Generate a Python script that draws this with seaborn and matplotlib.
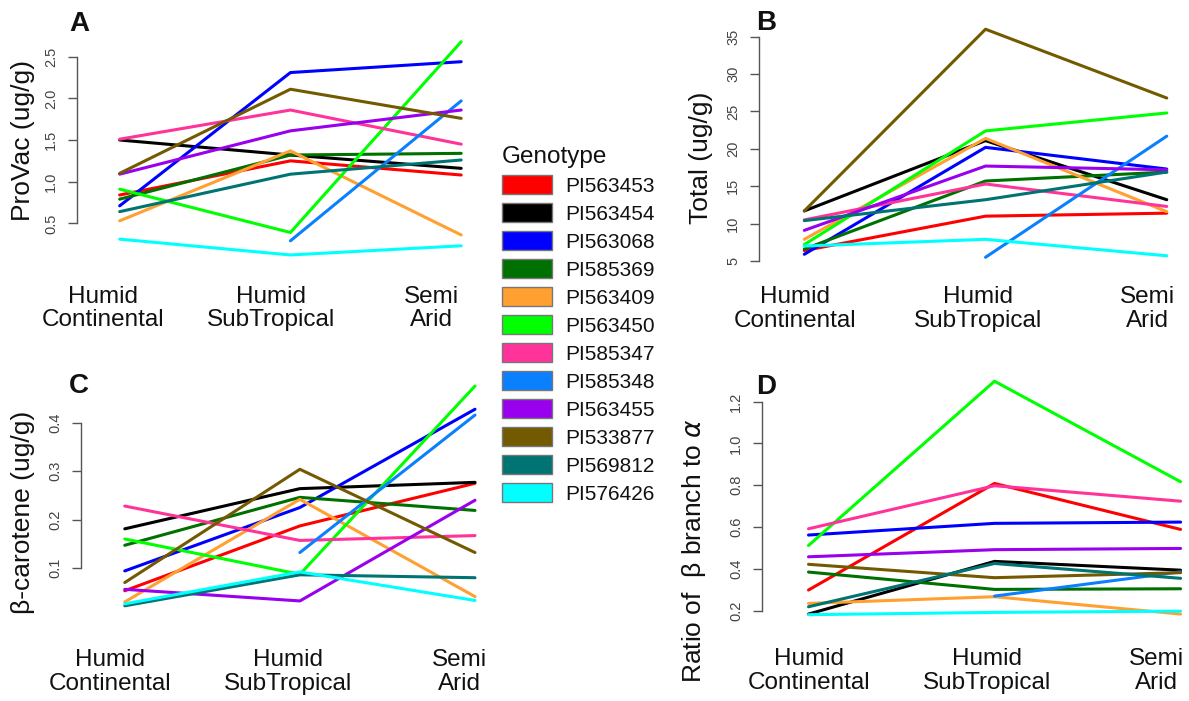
import numpy as np
import pandas as pd
import matplotlib
matplotlib.use("Agg")
import matplotlib.pyplot as plt
import seaborn as sns
from matplotlib.patches import Patch

nan = np.nan

genotypes = ["PI563453", "PI563454", "PI563068", "PI585369", "PI563409", "PI563450",
             "PI585347", "PI585348", "PI563455", "PI533877", "PI569812", "PI576426"]
colors = ["#FF0000", "#000000", "#0000FF", "#007000", "#FFA030", "#00FF00",
          "#FF3399", "#0A80FF", "#9900EE", "#735A00", "#007373", "#00FFFF"]
environments = ["Humid\nContinental", "Humid\nSubTropical", "Semi\nArid"]

provac = [
    [0.84, 1.25, 1.08],
    [1.50, 1.32, 1.16],
    [0.71, 2.31, 2.44],
    [0.79, 1.32, 1.34],
    [0.53, 1.37, 0.36],
    [0.91, 0.39, 2.68],
    [1.51, 1.86, 1.45],
    [nan, 0.29, 1.97],
    [1.09, 1.61, 1.86],
    [1.10, 2.11, 1.76],
    [0.64, 1.09, 1.26],
    [0.31, 0.12, 0.23],
]
total = [
    [6.4, 11.0, 11.4],
    [11.7, 21.1, 13.2],
    [5.9, 20.2, 17.3],
    [6.6, 15.7, 16.9],
    [7.9, 21.4, 11.6],
    [7.2, 22.4, 24.8],
    [10.5, 15.3, 12.3],
    [nan, 5.5, 21.7],
    [9.1, 17.7, 17.2],
    [11.7, 36.0, 26.8],
    [10.4, 13.2, 16.9],
    [7.0, 7.9, 5.7],
]
bcarotene = [
    [0.053, 0.187, 0.275],
    [0.181, 0.264, 0.277],
    [0.094, 0.225, 0.428],
    [0.147, 0.246, 0.219],
    [0.030, 0.242, 0.041],
    [0.160, 0.087, 0.476],
    [0.228, 0.157, 0.167],
    [nan, 0.132, 0.416],
    [0.056, 0.032, 0.240],
    [0.070, 0.304, 0.132],
    [0.022, 0.086, 0.080],
    [0.026, 0.092, 0.033],
]
ratio = [
    [0.299, 0.809, 0.589],
    [0.184, 0.436, 0.394],
    [0.562, 0.618, 0.624],
    [0.385, 0.302, 0.305],
    [0.235, 0.267, 0.184],
    [0.512, 1.298, 0.817],
    [0.592, 0.798, 0.724],
    [nan, 0.270, 0.386],
    [0.458, 0.492, 0.498],
    [0.422, 0.358, 0.382],
    [0.219, 0.426, 0.355],
    [0.181, 0.192, 0.198],
]

yticks_A = [0.5, 1.0, 1.5, 2.0, 2.5]
yticks_B = [5, 10, 15, 20, 25, 30, 35]
yticks_C = [0.1, 0.2, 0.3, 0.4]
yticks_D = [0.2, 0.4, 0.6, 0.8, 1.0, 1.2]

sns.set_theme(style="white")
plt.rcParams["font.family"] = ["Liberation Sans", "DejaVu Sans"]
plt.rcParams["mathtext.fontset"] = "dejavusans"

W, H = 1189, 701
fig = plt.figure(figsize=(W / 100, H / 100), dpi=100)
palette = dict(zip(genotypes, colors))


def long_df(values):
    rows = []
    for g, vals in zip(genotypes, values):
        for i, v in enumerate(vals):
            rows.append({"genotype": g, "env": i + 1, "value": v})
    return pd.DataFrame(rows).dropna()


# values, ylabel, yticks, ylim, pixel box (l, r, t, b), xtick positions, xpad,
# ylabel coords, panel letter, letter baseline position
panels = [
    (provac, "ProVac (ug/g)", yticks_A, (0.02, 2.78), (77, 468, 33.4, 263.3),
     [0.903, 1.885, 2.826], 16, (-0.107, 0.536), "A", (69, 31)),
    (total, "Total (ug/g)", yticks_B, (4.28, 37.22), (759, 1174, 20.1, 266.4),
     [0.949, 1.957, 2.893], 14, (-0.111, 0.44), "B", (756, 30)),
    (bcarotene, "β-carotene (ug/g)", yticks_C, (0.004, 0.494), (81, 482, 377.3, 614.5),
     [0.916, 1.930, 2.910], 25, (-0.115, 0.432), "C", (69, 393)),
    (ratio, "Ratio of  β branch to $\\alpha$", yticks_D, (0.136, 1.343), (762, 1188, 371.8, 624.1),
     [1.003, 1.960, 2.868], 17.5, (-0.127, 0.29), "D", (756, 394)),
]

for vals, ylab, yt, ylim, box, xpos, xpad, ylc, letter, lpos in panels:
    l, r, t, b = box
    ax = fig.add_axes([l / W, 1 - b / H, (r - l) / W, (b - t) / H])
    df = long_df(vals)
    sns.lineplot(data=df, x="env", y="value", hue="genotype", hue_order=genotypes,
                 palette=palette, legend=False, ax=ax, linewidth=2.2,
                 estimator=None, sort=False)
    ax.set_xlim(0.75, 3.04)
    ax.set_ylim(*ylim)
    for s in ["top", "right", "bottom"]:
        ax.spines[s].set_visible(False)
    ax.spines["left"].set_bounds(yt[0], yt[-1])
    ax.spines["left"].set_color("#555555")
    ax.spines["left"].set_linewidth(1.0)
    ax.set_yticks(yt)
    ax.set_yticklabels([f"{v:g}" if isinstance(v, int) else f"{v:.1f}" for v in yt],
                       rotation=90, va="center")
    ax.tick_params(axis="y", left=True, length=6.5, width=1.0, color="#555555",
                   labelcolor="#444444", labelsize=10.5, pad=7)
    ax.set_xticks(xpos)
    ax.set_xticklabels(environments, linespacing=1.1)
    ax.tick_params(axis="x", bottom=False, length=0, labelsize=17.5, pad=xpad,
                   labelcolor="#111111")
    ax.set_xlabel("")
    ax.set_ylabel(ylab, fontsize=19, color="#111111")
    ax.yaxis.set_label_coords(*ylc)
    ax.set_facecolor("none")
    fig.text(lpos[0] / W, 1 - lpos[1] / H, letter, fontsize=20, fontweight="bold",
             ha="left", va="baseline", color="#111111")

handles = [Patch(facecolor=c, edgecolor="#777777", linewidth=1.0) for c in colors]
leg = fig.legend(handles=handles, labels=genotypes, title="Genotype",
                 loc="upper left", bbox_to_anchor=(502 / W, 1 - 146 / H),
                 frameon=False, fontsize=15, title_fontsize=17.5,
                 handlelength=2.4, handleheight=1.0, labelspacing=0.36,
                 handletextpad=0.62, alignment="left", borderpad=0, borderaxespad=0)
for txt in leg.get_texts():
    txt.set_color("#111111")
leg.get_title().set_color("#111111")

fig.savefig("out.png", dpi=100)
